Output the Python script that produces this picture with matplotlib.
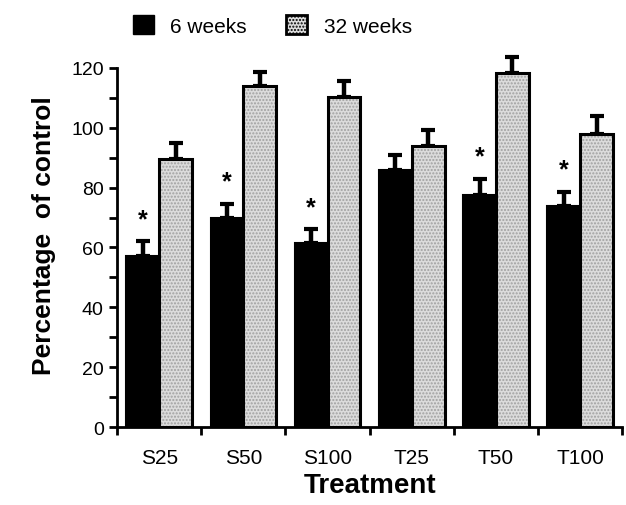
import numpy as np
import matplotlib
matplotlib.use('Agg')
import matplotlib.pyplot as plt
from matplotlib.patches import Patch
from matplotlib.ticker import MultipleLocator

plt.rcParams['font.family'] = ['Liberation Sans', 'DejaVu Sans']

treatments = ['S25', 'S50', 'S100', 'T25', 'T50', 'T100']
wk6 = [57, 70, 61.5, 86, 77.5, 74]
wk6_err = [5, 4.5, 4.5, 5, 5.5, 4.5]
wk32 = [89.5, 114, 110.3, 94, 118.4, 98]
wk32_err = [5.3, 4.7, 5.3, 5.2, 5.2, 6]
signif = [True, True, True, False, True, True]

fig = plt.figure(figsize=(6.26, 5.06), dpi=100)
ax = fig.add_axes([0.187, 0.154, 0.807, 0.710])

x = np.arange(len(treatments))
w = 0.39

# 6 weeks: solid black
ax.bar(x - w/2, wk6, w, color='black', edgecolor='black', linewidth=1.5, zorder=2)
eb1 = ax.errorbar(x - w/2, wk6, yerr=[np.zeros(6), wk6_err], fmt='none', ecolor='black',
                  elinewidth=3.2, capsize=5, capthick=3, zorder=1)

# 32 weeks: stippled light gray with heavy outline
ax.bar(x + w/2, wk32, w, color='#dcdcdc', edgecolor='#a0a0a0', hatch='.....', linewidth=0, zorder=2)
ax.bar(x + w/2, wk32, w, fill=False, edgecolor='black', linewidth=2.2, zorder=3)
eb2 = ax.errorbar(x + w/2, wk32, yerr=[np.zeros(6), wk32_err], fmt='none', ecolor='black',
                  elinewidth=3.2, capsize=5, capthick=3, zorder=1)
for eb in (eb1, eb2):
    for art in eb.get_children():
        art.set_clip_on(False)

for i in range(len(treatments)):
    if signif[i]:
        ax.text(x[i] - w/2, wk6[i] + wk6_err[i] + 3.5, '*', ha='center', va='bottom',
                fontsize=18, fontweight='bold')

ax.set_xlim(-0.5, len(treatments) - 0.5)
ax.set_ylim(0, 120)
ax.set_xticks(x)
ax.set_xticklabels(treatments, fontsize=15)
ax.tick_params(axis='x', which='major', length=0, pad=15)
ax.set_xticks(np.arange(-0.5, len(treatments)), minor=True)
ax.tick_params(axis='x', which='minor', length=6, width=2, direction='out')

ax.yaxis.set_major_locator(MultipleLocator(20))
ax.yaxis.set_minor_locator(MultipleLocator(10))
ax.tick_params(axis='y', which='both', length=6, width=2, labelsize=14, direction='out')

for s in ['top', 'right']:
    ax.spines[s].set_visible(False)
for s in ['left', 'bottom']:
    ax.spines[s].set_linewidth(2)

ax.set_xlabel('Treatment', fontsize=20, fontweight='bold', labelpad=4)
ax.set_ylabel('Percentage  of control', fontsize=19, fontweight='bold')
ax.yaxis.set_label_coords(-0.12, 0.535)

handles = [Patch(facecolor='black', edgecolor='black', label='6 weeks'),
           Patch(facecolor='#dcdcdc', edgecolor='black', linewidth=2, hatch='.....', label='32 weeks')]
fig.legend(handles=handles, loc='upper left', bbox_to_anchor=(0.182, 1.005), ncol=2,
           frameon=False, fontsize=15, handlelength=1.0, handleheight=1.0,
           columnspacing=1.9, handletextpad=0.8)

fig.savefig('out.png', dpi=100)
